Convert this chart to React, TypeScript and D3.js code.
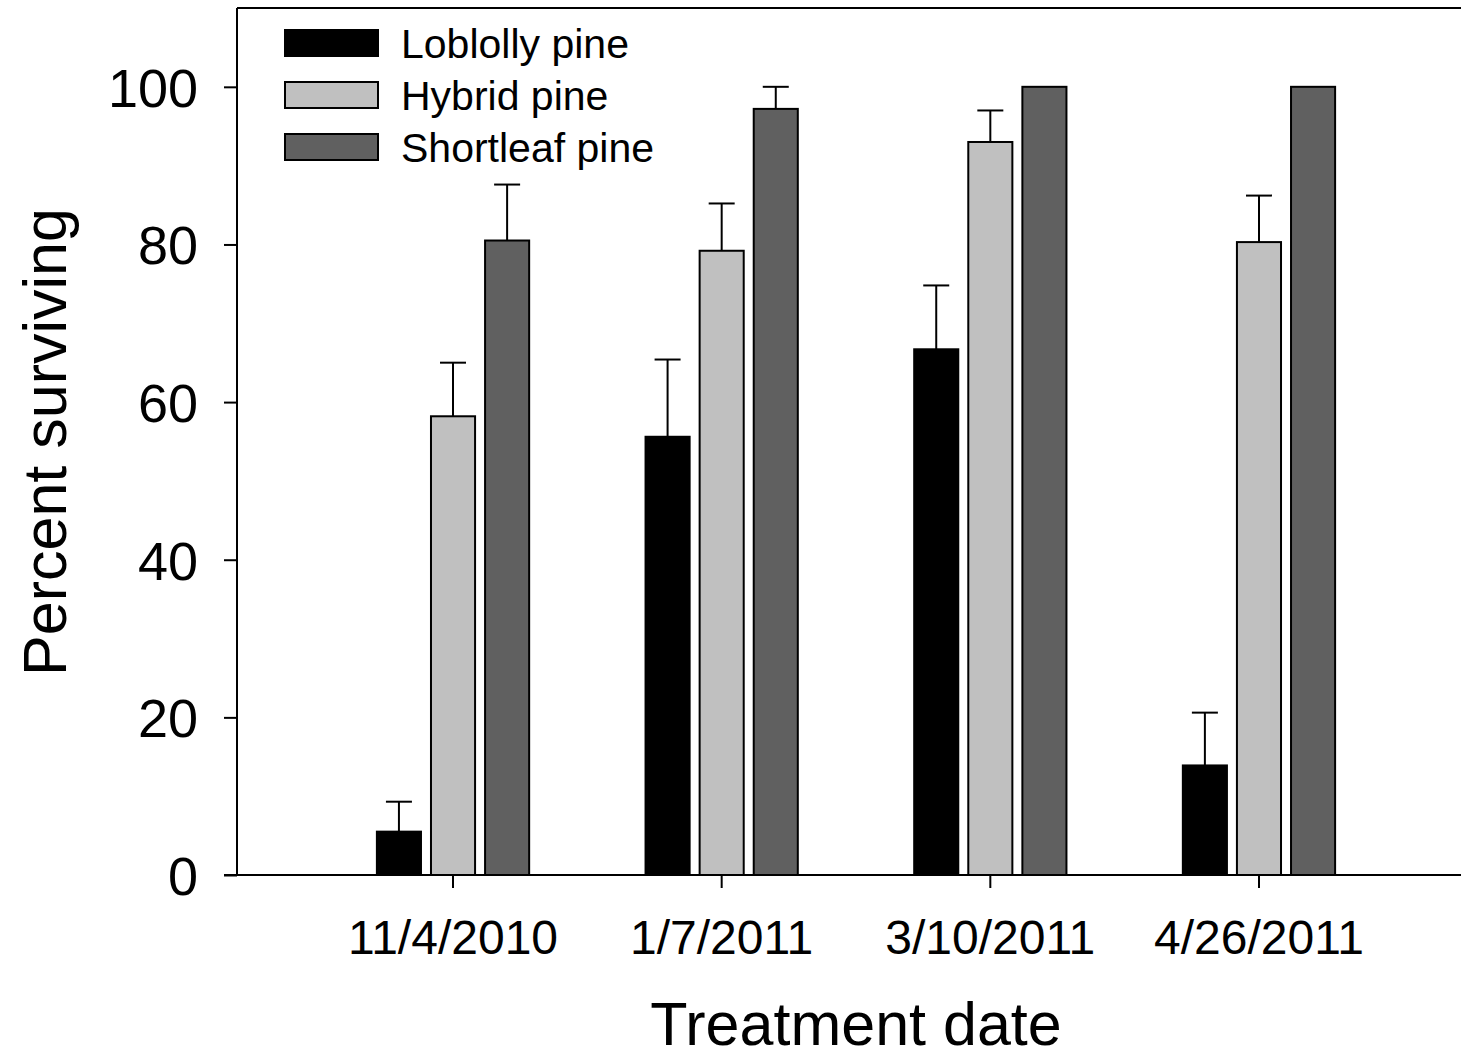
import React, { useEffect, useRef } from 'react';
import * as d3 from 'd3';

const dates = ['11/4/2010', '1/7/2011', '3/10/2011', '4/26/2011'];
const species = ['Loblolly pine', 'Hybrid pine', 'Shortleaf pine'];
const colors = ['#000000', '#c0c0c0', '#606060'];
const loblolly = [5.5, 55.6, 66.7, 13.9];
const loblollyErr = [3.8, 9.8, 8.1, 6.7];
const hybrid = [58.2, 79.2, 93.0, 80.3];
const hybridErr = [6.8, 6.0, 4.0, 5.9];
const shortleaf = [80.5, 97.2, 100, 100];
const shortleafErr = [7.1, 2.8, 0, 0];
const yTicks = [0, 20, 40, 60, 80, 100];

const FONT = 'Arial, "Liberation Sans", sans-serif';

const App = () => {
  const svgRef = useRef<SVGSVGElement>(null);

  useEffect(() => {
    const svg = d3.select(svgRef.current);
    svg.selectAll('*').remove();

    const width = 1461;
    const height = 1057;
    const margin = { top: 8, right: 0, bottom: 182, left: 237 };

    const values = [loblolly, hybrid, shortleaf];
    const errors = [loblollyErr, hybridErr, shortleafErr];

    const y = d3
      .scaleLinear()
      .domain([0, 110])
      .range([height - margin.bottom, margin.top]);

    // category centres sit at ~453, 721, 990, 1259
    const x = d3.scaleBand().domain(dates).range([318.7, 1393.3]).padding(0);
    const step = 54;
    const inner = d3
      .scaleBand()
      .domain(species)
      .range([-step * 1.5, step * 1.5])
      .paddingInner(0.185)
      .paddingOuter(0.09);

    const g = svg.append('g');

    // bars
    species.forEach((sp, si) => {
      g.selectAll(`.bar-${si}`)
        .data(dates)
        .join('rect')
        .attr('x', (d) => x(d)! + x.bandwidth() / 2 + inner(sp)!)
        .attr('y', (d, i) => y(values[si][i]))
        .attr('width', inner.bandwidth())
        .attr('height', (d, i) => y(0) - y(values[si][i]))
        .attr('fill', colors[si])
        .attr('stroke', '#000')
        .attr('stroke-width', 2);

      // error bars (upper only)
      dates.forEach((d, i) => {
        const e = errors[si][i];
        if (e <= 0) return;
        const cx = x(d)! + x.bandwidth() / 2 + inner(sp)! + inner.bandwidth() / 2;
        const top = y(values[si][i] + e);
        g.append('line')
          .attr('x1', cx).attr('x2', cx)
          .attr('y1', y(values[si][i])).attr('y2', top)
          .attr('stroke', '#000').attr('stroke-width', 2);
        g.append('line')
          .attr('x1', cx - 13).attr('x2', cx + 13)
          .attr('y1', top).attr('y2', top)
          .attr('stroke', '#000').attr('stroke-width', 2);
      });
    });

    // frame: left axis, top line
    g.append('line')
      .attr('x1', margin.left).attr('x2', margin.left)
      .attr('y1', margin.top).attr('y2', y(0))
      .attr('stroke', '#000').attr('stroke-width', 2);
    g.append('line')
      .attr('x1', margin.left).attr('x2', width)
      .attr('y1', margin.top).attr('y2', margin.top)
      .attr('stroke', '#000').attr('stroke-width', 2);

    // y axis
    const yAxis = d3.axisLeft(y).tickValues(yTicks).tickSize(13).tickPadding(26);
    const yg = svg.append('g')
      .attr('transform', `translate(${margin.left},0)`)
      .call(yAxis);
    yg.select('.domain').remove();
    yg.selectAll('line').attr('stroke', '#000').attr('stroke-width', 2);
    yg.selectAll('text')
      .attr('font-family', FONT)
      .attr('font-size', 54)
      .attr('fill', '#000')
      .attr('dy', '0.36em');

    // x axis
    svg.append('line')
      .attr('x1', margin.left - 13).attr('x2', width)
      .attr('y1', y(0)).attr('y2', y(0))
      .attr('stroke', '#000').attr('stroke-width', 2);
    const xAxis = d3.axisBottom(x).tickSize(13).tickPadding(32);
    const xg = svg.append('g')
      .attr('transform', `translate(0,${y(0)})`)
      .call(xAxis);
    xg.select('.domain').remove();
    xg.selectAll('line').attr('stroke', '#000').attr('stroke-width', 2);
    xg.selectAll('text')
      .attr('font-family', FONT)
      .attr('font-size', 48)
      .attr('fill', '#000');

    // axis titles
    svg.append('text')
      .attr('x', 856).attr('y', 1045)
      .attr('text-anchor', 'middle')
      .attr('font-family', FONT).attr('font-size', 61)
      .text('Treatment date');
    svg.append('text')
      .attr('transform', 'translate(66,442) rotate(-90)')
      .attr('text-anchor', 'middle')
      .attr('font-family', FONT).attr('font-size', 61)
      .text('Percent surviving');

    // legend
    const legend = svg.append('g').attr('transform', 'translate(285,30)');
    species.forEach((sp, i) => {
      legend.append('rect')
        .attr('x', 0).attr('y', i * 52)
        .attr('width', 93).attr('height', 26)
        .attr('fill', colors[i])
        .attr('stroke', '#000').attr('stroke-width', 2);
      legend.append('text')
        .attr('x', 116).attr('y', i * 52 + 13)
        .attr('dy', '0.36em')
        .attr('font-family', FONT).attr('font-size', 41)
        .text(sp);
    });
  }, []);

  return (
    <svg
      ref={svgRef}
      width={1461}
      height={1057}
      style={{ position: 'absolute', left: 0, top: 0, background: '#fff' }}
    />
  );
};

export default App;
